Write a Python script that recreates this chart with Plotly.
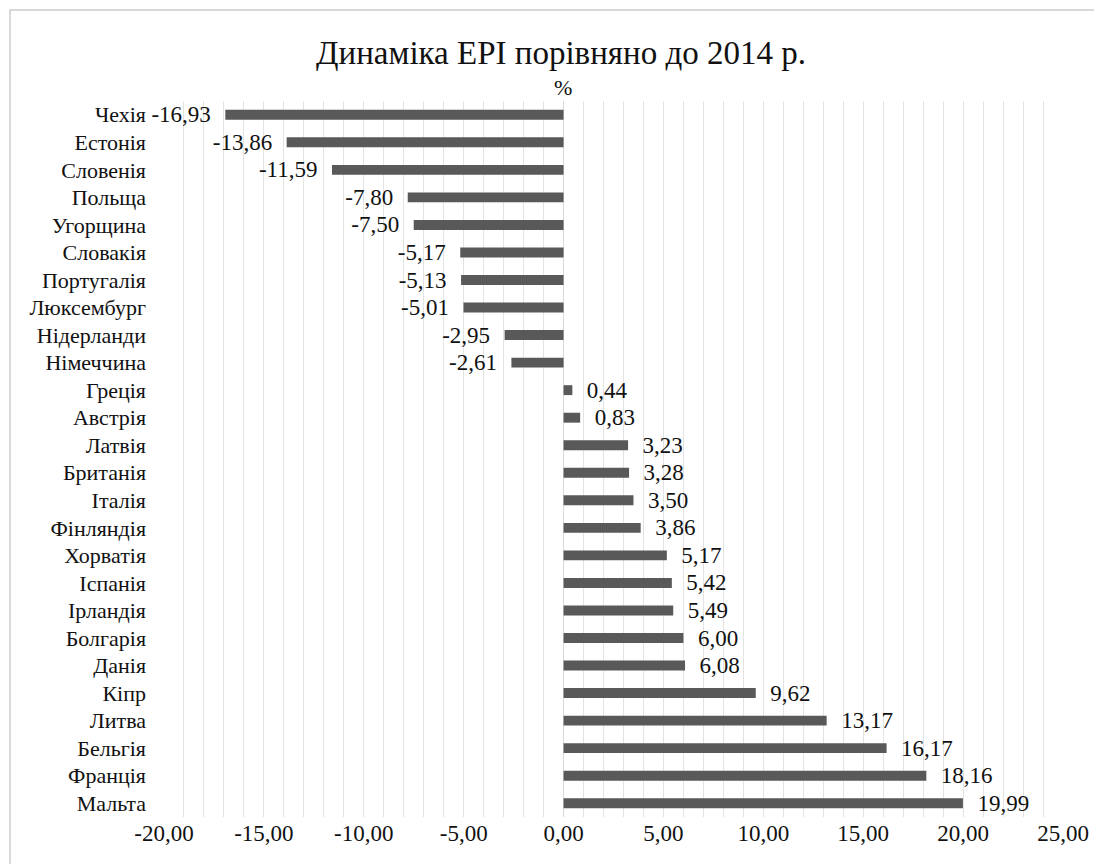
import plotly.graph_objects as go

countries = ["Чехія", "Естонія", "Словенія", "Польща", "Угорщина", "Словакія", "Португалія",
             "Люксембург", "Нідерланди", "Німеччина", "Греція", "Австрія", "Латвія", "Британія",
             "Італія", "Фінляндія", "Хорватія", "Іспанія", "Ірландія", "Болгарія", "Данія",
             "Кіпр", "Литва", "Бельгія", "Франція", "Мальта"]
values = [-16.93, -13.86, -11.59, -7.80, -7.50, -5.17, -5.13, -5.01, -2.95, -2.61,
          0.44, 0.83, 3.23, 3.28, 3.50, 3.86, 5.17, 5.42, 5.49, 6.00, 6.08,
          9.62, 13.17, 16.17, 18.16, 19.99]
tick_vals = [-20, -15, -10, -5, 0, 5, 10, 15, 20, 25]
tick_text = ["-20,00", "-15,00", "-10,00", "-5,00", "0,00", "5,00", "10,00", "15,00", "20,00", "25,00"]

NB = "\u00a0"
labels = [(NB * 2 + f"{v:.2f}".replace(".", ",")) if v >= 0
          else (f"{v:.2f}".replace(".", ",") + NB * 2) for v in values]

FONT = "Liberation Serif"
OFF = 8  # browser body margin
W, H = 1102 - OFF, 864 - OFF
# target pixel positions in the screenshot
L, R, T, B = 164, 1063, 101, 817


def px2paper_x(px):
    return (px - L) / (R - L)


def px2paper_y(py):
    return (B - py) / (B - T)


fig = go.Figure(go.Bar(
    x=values, y=countries, orientation="h",
    marker=dict(color="#595959", line=dict(width=0)),
    text=labels, textposition="outside", cliponaxis=False, constraintext="none",
    textfont=dict(family=FONT, size=23, color="#111111"),
))

fig.add_shape(type="rect", xref="paper", yref="paper",
              x0=px2paper_x(10), x1=px2paper_x(1130), y0=px2paper_y(890), y1=px2paper_y(10),
              line=dict(color="#d9d9d9", width=2), fillcolor="rgba(0,0,0,0)", layer="below")

fig.add_annotation(text="%", xref="paper", yref="paper", x=px2paper_x(563), y=px2paper_y(87),
                   showarrow=False, font=dict(family=FONT, size=22, color="#111111"),
                   xanchor="center", yanchor="middle")

fig.update_layout(
    width=W, height=H,
    margin=dict(l=L - OFF, r=W - (R - OFF), t=T - OFF, b=H - (B - OFF), autoexpand=False),
    paper_bgcolor="white", plot_bgcolor="white",
    separators=", ",
    bargap=0.64,
    showlegend=False,
    title=dict(text="Динаміка ЕРІ порівняно до 2014 р.", xref="container", yref="container",
               x=(561 - OFF) / W, y=1 - (52 - OFF) / H, xanchor="center", yanchor="middle",
               font=dict(family=FONT, size=33, color="#111111")),
    font=dict(family=FONT, color="#111111"),
)
fig.update_xaxes(range=[-20, 25], tickvals=tick_vals, ticktext=tick_text,
                 showgrid=True, gridcolor="#e3e3e3", gridwidth=1,
                 minor=dict(dtick=1, showgrid=True, gridcolor="#e3e3e3", gridwidth=1),
                 zeroline=True, zerolinecolor="#d9d9d9", zerolinewidth=1,
                 showline=False, ticks="", automargin=False,
                 tickfont=dict(family=FONT, size=23, color="#111111"))
fig.update_yaxes(categoryorder="array", categoryarray=countries, autorange="reversed",
                 showgrid=False, showline=False, ticks="", ticklabelstandoff=17, automargin=False,
                 tickfont=dict(family=FONT, size=22, color="#111111"))

fig.write_html("out.html")
